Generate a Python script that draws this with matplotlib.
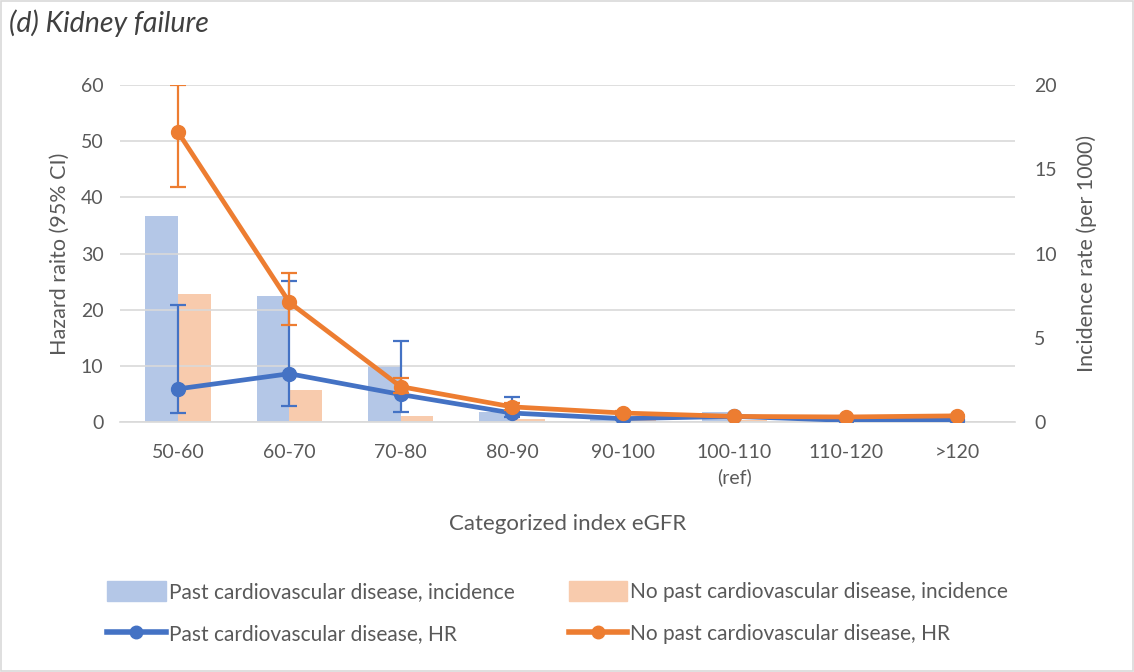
"""
Kidney failure: HR (left axis) and incidence (right axis) by categorized index eGFR
"""

import numpy as np
import matplotlib
matplotlib.use("Agg")
import matplotlib.pyplot as plt
from matplotlib.lines import Line2D
from matplotlib.patches import Patch

# ============================================================================
# DATA
# ============================================================================
categories = ["50-60", "60-70", "70-80", "80-90", "90-100", "100-110\n(ref)", "110-120", ">120"]

# incidence rate per 1000 (right axis)
inc_past = [12.2, 7.5, 3.3, 0.6, 0.2, 0.6, 0.1, 0.1]
inc_nopast = [7.6, 1.9, 0.35, 0.2, 0.1, 0.1, 0.05, 0.05]

# hazard ratios (left axis)
hr_past = [5.9, 8.6, 4.9, 1.6, 0.6, 1.0, 0.3, 0.4]
hr_past_lo = [1.6, 2.9, 1.8, 0.9, 0.3, 1.0, 0.1, 0.1]
hr_past_hi = [20.9, 25.1, 14.4, 4.5, 1.2, 1.0, 0.8, 0.9]

hr_nopast = [51.6, 21.3, 6.3, 2.7, 1.6, 1.0, 0.9, 1.1]
hr_nopast_lo = [41.8, 17.3, 5.2, 2.2, 1.3, 1.0, 0.7, 0.9]
hr_nopast_hi = [60.0, 26.5, 7.8, 3.3, 1.9, 1.0, 1.1, 1.3]

# ============================================================================
# STYLE
# ============================================================================
BLUE = "#4472C4"
ORANGE = "#ED7D31"
BLUE_BAR = "#B4C7E7"
ORANGE_BAR = "#F8CBAD"
TEXT = "#595959"
GRID = "#D9D9D9"

plt.rcParams["font.family"] = ["Lato", "DejaVu Sans"]

fig = plt.figure(figsize=(11.34, 6.72), dpi=100)
ax = fig.add_axes([0.106, 0.372, 0.789, 0.5015])
ax2 = ax.twinx()

x = np.arange(len(categories))
w = 0.295

# bars on right axis
ax2.bar(x - w / 2, inc_past, w, color=BLUE_BAR, zorder=1)
ax2.bar(x + w / 2, inc_nopast, w, color=ORANGE_BAR, zorder=1)
ax2.set_ylim(0, 20)
ax2.set_yticks([0, 5, 10, 15, 20])

# lines on left axis, drawn above the bars
ax.set_zorder(ax2.get_zorder() + 1)
ax.patch.set_visible(False)

err_past = [np.array(hr_past) - np.array(hr_past_lo), np.array(hr_past_hi) - np.array(hr_past)]
err_nopast = [np.array(hr_nopast) - np.array(hr_nopast_lo), np.array(hr_nopast_hi) - np.array(hr_nopast)]

ax.errorbar(x, hr_past, yerr=err_past, fmt="none", ecolor=BLUE, elinewidth=1.6,
            capsize=6, capthick=1.6, zorder=3)
ax.plot(x, hr_past, color=BLUE, lw=3.4, marker="o", markersize=10, zorder=4)
ax.errorbar(x, hr_nopast, yerr=err_nopast, fmt="none", ecolor=ORANGE, elinewidth=1.6,
            capsize=6, capthick=1.6, zorder=5)
ax.plot(x, hr_nopast, color=ORANGE, lw=3.4, marker="o", markersize=10, zorder=6)

ax.set_ylim(0, 60)
ax.set_yticks(range(0, 61, 10))
ax.set_xlim(-0.52, len(categories) - 0.48)
ax.set_xticks(x)
ax.set_xticklabels(categories, linespacing=1.5)

# grid & spines
ax.grid(axis="y", color=GRID, lw=1.2)
ax.set_axisbelow(True)
for a in (ax, ax2):
    for s in a.spines.values():
        s.set_visible(False)
    a.tick_params(length=0, labelsize=14, colors=TEXT)
ax.tick_params(axis="x", pad=16)
ax.tick_params(axis="y", pad=12)
ax2.tick_params(axis="y", pad=14)
ax.spines["bottom"].set_visible(True)
ax.spines["bottom"].set_color(GRID)
ax.spines["bottom"].set_linewidth(1.2)

ax.set_ylabel("Hazard raito (95% CI)", fontsize=15.5, color=TEXT, labelpad=8)
ax2.set_ylabel("Incidence rate (per 1000)", fontsize=15.5, color=TEXT, labelpad=14)
ax.set_xlabel("Categorized index eGFR", fontsize=16, color=TEXT, labelpad=20)

fig.text(0.008, 0.965, "(d) Kidney failure", fontsize=20.5, style="italic",
         color="#404040", va="center", ha="left")

# legend
handles = [
    Patch(color=BLUE_BAR),
    Line2D([], [], color=BLUE, lw=4, marker="o", markersize=9),
    Patch(color=ORANGE_BAR),
    Line2D([], [], color=ORANGE, lw=4, marker="o", markersize=9),
]
labels = [
    "Past cardiovascular disease, incidence",
    "Past cardiovascular disease, HR",
    "No past cardiovascular disease, incidence",
    "No past cardiovascular disease, HR",
]
fig.legend(handles, labels, ncol=2, loc="center left", bbox_to_anchor=(0.078, 0.088),
           frameon=False, fontsize=15, labelcolor=TEXT, handlelength=2.8,
           handleheight=1.1, handletextpad=0.15, columnspacing=2.6, labelspacing=1.0)

# light border round the figure
fig.patches.append(plt.Rectangle((0.001, 0.001), 0.998, 0.998, transform=fig.transFigure,
                                 fill=False, edgecolor=GRID, lw=1.2))

fig.savefig("out.png", dpi=100)
